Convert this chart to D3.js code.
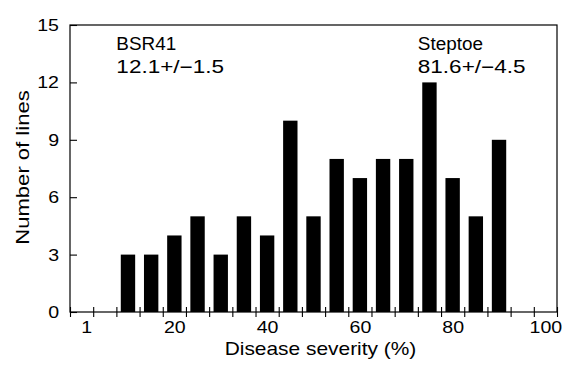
<!DOCTYPE html>
<html>
<head>
<meta charset="utf-8">
<script src="https://cdn.jsdelivr.net/npm/d3@7"></script>
<style>
  body { margin: 0; background: #fff; }
  text { font-family: Helvetica, Arial, "Liberation Sans", sans-serif; fill: #000; }
</style>
</head>
<body>
<svg id="chart"></svg>
<script>
// histogram of disease severity (bin centres, %) and number of lines per bin
var binCenters = [10, 15, 20, 25, 30, 35, 40, 45, 50, 55, 60, 65, 70, 75, 80, 85, 90];
var lineCounts = [3, 3, 4, 5, 3, 5, 4, 10, 5, 8, 7, 8, 8, 12, 7, 5, 9];
var xTickLabels = [1, 20, 40, 60, 80, 100];
var yTickValues = [0, 3, 6, 9, 12, 15];
var parentNames = ["BSR41", "Steptoe"];
var parentStats = ["12.1+/\u22121.5", "81.6+/\u22124.5"];

var W = 563, H = 369;
var margin = { top: 25, right: 6, bottom: 57, left: 70 },
  width = W - margin.left - margin.right,
  height = H - margin.top - margin.bottom;
var binWidth = 5;

var xScale = d3.scaleLinear().domain([-2.5, 102.5]).range([0, width]);
var yScale = d3.scaleLinear().domain([0, 15]).range([height, 0]);

var svg = d3.select("#chart")
  .attr("width", W)
  .attr("height", H)
  .append("g").attr("transform", "translate(" + margin.left + "," + margin.top + ")");

// bars
var barW = xScale(3.1) - xScale(0);
svg.selectAll("rect.bar").data(binCenters).enter().append("rect")
  .attr("class", "bar")
  .attr("x", function (d) { return xScale(d) - barW / 2; })
  .attr("y", function (d, i) { return yScale(lineCounts[i]); })
  .attr("width", barW)
  .attr("height", function (d, i) { return yScale(0) - yScale(lineCounts[i]); })
  .attr("fill", "#000");

// y axis, ticks pointing inwards
svg.append("g")
  .call(d3.axisLeft(yScale).tickValues(yTickValues).tickSizeInner(-7).tickSizeOuter(0).tickPadding(11))
  .call(function (g) { g.select(".domain").remove(); })
  .selectAll("text").attr("class", "tl").style("font-size", "17px");

// x minor ticks at bin edges, crossing the axis
var edges = d3.range(-2.5, 103, binWidth);
svg.append("g")
  .attr("transform", "translate(0," + (height - 5) + ")")
  .call(d3.axisBottom(xScale).tickValues(edges).tickSize(10).tickFormat(""))
  .call(function (g) { g.select(".domain").remove(); });

// x labels
svg.append("g")
  .attr("transform", "translate(0," + height + ")")
  .call(d3.axisBottom(xScale).tickValues(xTickLabels).tickSize(0).tickPadding(9))
  .call(function (g) { g.select(".domain").remove(); })
  .selectAll("text").attr("class", "tl").style("font-size", "17px");

svg.selectAll(".tick line").attr("stroke", "#000").attr("stroke-width", 1.1);

// frame
svg.append("rect")
  .attr("width", width).attr("height", height)
  .attr("fill", "none").attr("stroke", "#000").attr("stroke-width", 1.2);

// axis titles
svg.append("text")
  .attr("class", "title")
  .attr("x", width / 2 + 7)
  .attr("y", height + 43)
  .style("text-anchor", "middle")
  .style("font-size", "19px")
  .text("Disease severity (%)");

svg.append("text")
  .attr("class", "title ylab")
  .attr("transform", "rotate(-90)")
  .attr("x", -height / 2 + 1)
  .attr("y", 29 - margin.left)
  .style("text-anchor", "middle")
  .style("font-size", "19px")
  .text("Number of lines");

// parent means
var noteX = [xScale(7.5), xScale(72.5)];
parentNames.forEach(function (name, i) {
  svg.append("text").attr("class", "note").attr("x", noteX[i]).attr("y", 25).style("font-size", "18px").text(name);
  svg.append("text").attr("class", "stat").attr("x", noteX[i]).attr("y", 48).style("font-size", "18px").text(parentStats[i]);
});

// widen glyphs to match the original typesetting
function widen(sel, k) {
  sel.each(function () {
    var w = this.getComputedTextLength();
    if (w > 0) d3.select(this).attr("textLength", w * k).attr("lengthAdjust", "spacingAndGlyphs");
  });
}
widen(svg.selectAll("text.tl"), 1.15);
widen(svg.selectAll("text.title:not(.ylab)"), 1.1);
widen(svg.selectAll("text.ylab"), 1.16);
widen(svg.selectAll("text.note"), 1.05);
widen(svg.selectAll("text.stat"), 1.25);
</script>
</body>
</html>
